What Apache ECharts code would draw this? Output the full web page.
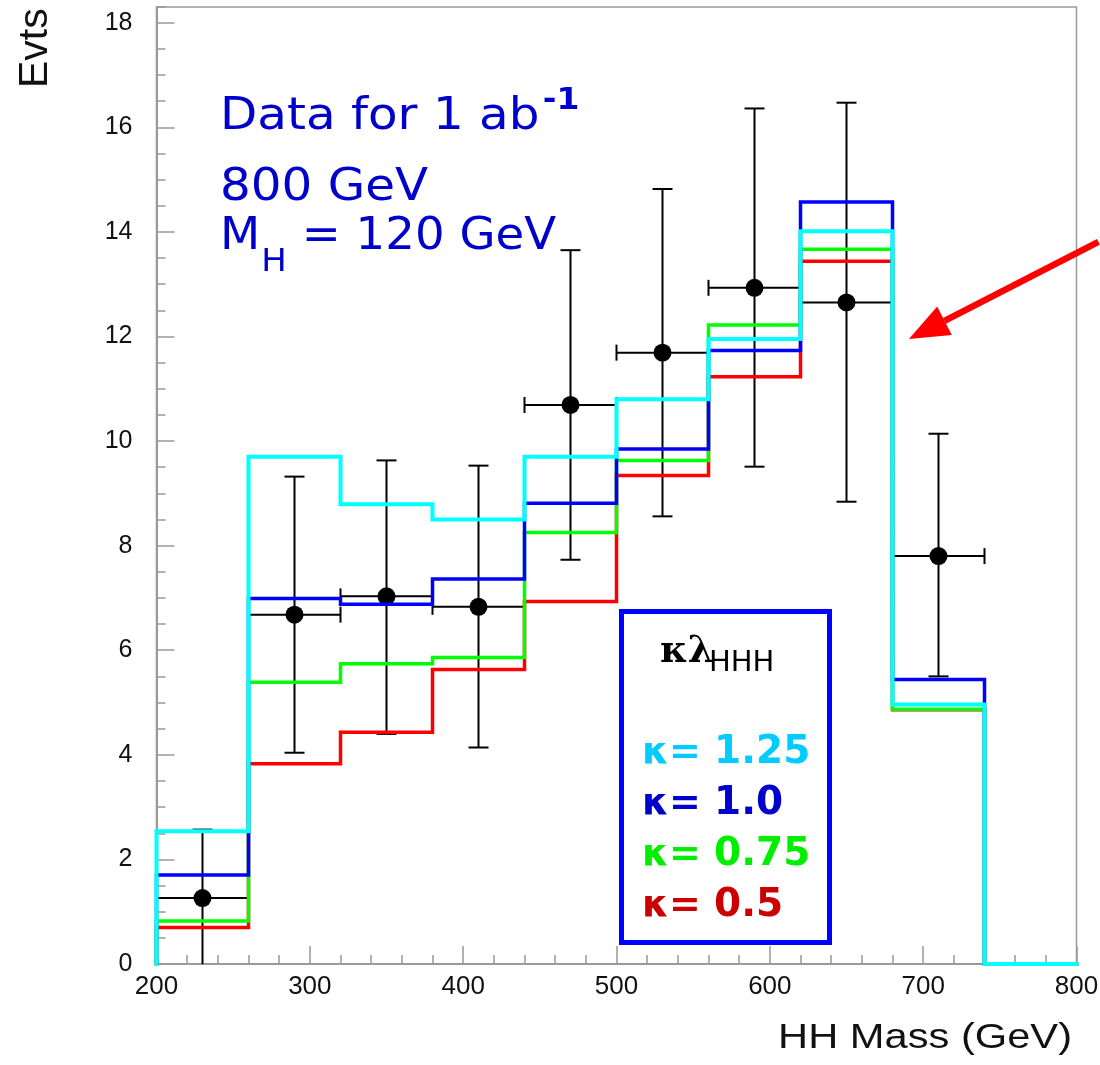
<!DOCTYPE html>
<html>
<head>
<meta charset="utf-8">
<title>HH Mass</title>
<script src="https://cdn.jsdelivr.net/npm/echarts@6/dist/echarts.min.js"></script>
<style>
  html, body { margin: 0; padding: 0; background: #fff; }
  #chart { width: 1100px; height: 1065px; }
</style>
</head>
<body>
<div id="chart"></div>
<script>
// Histogram bin edges (GeV) and expected events per bin for each coupling scale
const binEdges = [200, 260, 320, 380, 440, 500, 560, 620, 680, 740, 800];
const kappa125 = [2.54, 9.70, 8.79, 8.50, 9.70, 10.80, 11.95, 14.01, 4.96, 0];
const kappa100 = [1.70, 6.99, 6.88, 7.36, 8.81, 9.85, 11.73, 14.57, 5.44, 0];
const kappa075 = [0.82, 5.39, 5.74, 5.86, 8.25, 9.63, 12.22, 13.67, 4.87, 0];
const kappa050 = [0.70, 3.83, 4.43, 5.63, 6.93, 9.34, 11.23, 13.44, 4.86, 0];

// Pseudo-data points: bin centre, events, lower and upper error ends
const dataMass = [230, 290, 350, 410, 470, 530, 590, 650, 710];
const dataEvts = [1.26, 6.68, 7.03, 6.83, 10.69, 11.69, 12.93, 12.65, 7.80];
const dataLow  = [-0.05, 4.04, 4.40, 4.14, 7.73, 8.56, 9.51, 8.84, 5.50];
const dataHigh = [2.57, 9.32, 9.63, 9.53, 13.65, 14.82, 16.36, 16.47, 10.14];
const massHalfWidth = 30;

// Arrow pointing at the high-mass edge (mass, events)
const arrowFrom = [814.3, 13.81];
const arrowTo = [690.7, 11.95];

// Axis ranges and steps
const xRange = [200, 800];
const xStep = 100;
const yRange = [0, 18.3];
const yStep = 2;
const yMinorStep = 0.5;

// Legend entries: label and text colour, same order as drawn top to bottom
const legendLabels = ['1.25', '1.0', '0.75', '0.5'];
const legendColors = ['#00ccff', '#0000cc', '#00ee00', '#cc0000'];

function outline(vals) {
  const pts = [[binEdges[0], 0]];
  vals.forEach(function (v, i) {
    pts.push([binEdges[i], v]);
    pts.push([binEdges[i + 1], v]);
  });
  pts.push([binEdges[binEdges.length - 1], 0]);
  return pts;
}

function histSeries(name, vals, color, width) {
  return {
    name: name,
    type: 'line',
    data: outline(vals),
    symbol: 'none',
    lineStyle: { color: color, width: width, join: 'miter', cap: 'square' },
    silent: true
  };
}

function blackLine(x1, y1, x2, y2) {
  return { type: 'line', shape: { x1: x1, y1: y1, x2: x2, y2: y2 }, style: { stroke: '#000', lineWidth: 2 } };
}

function renderErrorBar(params, api) {
  const x = api.value(0), y = api.value(1), lo = api.value(2), hi = api.value(3);
  const c = api.coord([x, y]);
  const top = api.coord([x, hi]);
  const bot = api.coord([x, lo]);
  const left = api.coord([x - massHalfWidth, y]);
  const right = api.coord([x + massHalfWidth, y]);
  const cw = 10, ch = 8;
  return {
    type: 'group',
    children: [
      blackLine(top[0], top[1], bot[0], bot[1]),
      blackLine(top[0] - cw, top[1], top[0] + cw, top[1]),
      blackLine(bot[0] - cw, bot[1], bot[0] + cw, bot[1]),
      blackLine(left[0], left[1], right[0], right[1]),
      blackLine(left[0], left[1] - ch, left[0], left[1] + ch),
      blackLine(right[0], right[1] - ch, right[0], right[1] + ch),
      { type: 'circle', shape: { cx: c[0], cy: c[1], r: 9 }, style: { fill: '#000' } }
    ]
  };
}

function renderArrow(params, api) {
  const from = api.coord([api.value(0), api.value(1)]);
  const to = api.coord([api.value(2), api.value(3)]);
  const dx = from[0] - to[0], dy = from[1] - to[1];
  const len = Math.sqrt(dx * dx + dy * dy);
  const ux = dx / len, uy = dy / len;
  const headLen = 40, headHalf = 16;
  const bx = to[0] + ux * headLen, by = to[1] + uy * headLen;
  return {
    type: 'group',
    children: [
      { type: 'line', shape: { x1: from[0], y1: from[1], x2: bx, y2: by }, style: { stroke: '#ff0000', lineWidth: 6.5 } },
      { type: 'polygon', shape: { points: [[to[0], to[1]], [bx - uy * headHalf, by + ux * headHalf], [bx + uy * headHalf, by - ux * headHalf]] }, style: { fill: '#ff0000' } }
    ]
  };
}

const axisGrey = '#999';
const blueText = '#0000cc';

const legendChildren = [
  { type: 'rect', shape: { x: 621.5, y: 611.5, width: 208, height: 331 }, style: { fill: '#fff', stroke: '#0000ff', lineWidth: 5 } },
  { type: 'text', x: 660, y: 652.5, style: { text: 'κλ', font: 'bold 37px "DejaVu Serif"', fill: '#000', verticalAlign: 'middle' } },
  { type: 'text', x: 709, y: 663, style: { text: 'HHH', font: '29px "DejaVu Sans"', fill: '#000', verticalAlign: 'middle' } }
];
legendLabels.forEach(function (lab, i) {
  legendChildren.push({
    type: 'text', x: 642, y: 753 + i * 51,
    style: {
      text: '{k|κ= }{v|' + lab + '}', verticalAlign: 'middle', fill: legendColors[i],
      rich: {
        k: { font: 'bold 38px "DejaVu Sans"', fill: legendColors[i] },
        v: { font: 'bold 39px "DejaVu Sans"', fill: legendColors[i] }
      }
    }
  });
});

const option = {
  animation: false,
  backgroundColor: '#fff',
  grid: {
    left: 156.5, right: 23.5, top: 7, bottom: 101,
    show: true, borderColor: axisGrey, borderWidth: 1.5,
    containLabel: false, outerBoundsMode: 'none'
  },
  xAxis: [{
    type: 'value', min: xRange[0], max: xRange[1], interval: xStep,
    axisLine: { show: true, onZero: false, lineStyle: { color: axisGrey, width: 2 } },
    axisTick: { show: true, inside: true, length: 18, lineStyle: { color: axisGrey, width: 1.5 } },
    minorTick: { show: true, splitNumber: 5, length: 9, lineStyle: { color: axisGrey, width: 1.5 } },
    splitLine: { show: false },
    axisLabel: { color: '#111', fontSize: 26, fontFamily: '"Liberation Sans", Arial, sans-serif', margin: 10 }
  }],
  yAxis: [{
    type: 'value', min: yRange[0], max: yRange[1], interval: yStep,
    axisLine: { show: true, onZero: false, lineStyle: { color: axisGrey, width: 2 } },
    axisTick: { show: true, inside: true, length: 18, lineStyle: { color: axisGrey, width: 1.5 } },
    splitLine: { show: false },
    axisLabel: { color: '#111', fontSize: 25, fontFamily: '"Liberation Sans", Arial, sans-serif', margin: 24, showMaxLabel: false }
  }, {
    type: 'value', min: yRange[0], max: yRange[1], interval: yMinorStep, position: 'left',
    axisLine: { show: false },
    axisTick: { show: true, inside: true, length: 9, lineStyle: { color: axisGrey, width: 1.5 } },
    splitLine: { show: false },
    axisLabel: { show: false }
  }],
  series: [
    {
      name: 'data', type: 'custom', renderItem: renderErrorBar, clip: true, silent: true,
      data: dataMass.map(function (m, i) { return [m, dataEvts[i], dataLow[i], dataHigh[i]]; })
    },
    histSeries('κ= 0.5', kappa050, '#ff0000', 3.5),
    histSeries('κ= 0.75', kappa075, '#00ff00', 3.5),
    histSeries('κ= 1.0', kappa100, '#0000ff', 3.5),
    histSeries('κ= 1.25', kappa125, '#00ffff', 4),
    {
      name: 'arrow', type: 'custom', renderItem: renderArrow, clip: false, silent: true, z: 5,
      data: [[arrowFrom[0], arrowFrom[1], arrowTo[0], arrowTo[1]]]
    }
  ],
  graphic: [
    {
      type: 'text', x: 220, y: 86, scaleX: 1.1, z: 10,
      style: {
        text: '{m|Data for 1 ab}{s|-1}', verticalAlign: 'top', fill: blueText,
        rich: {
          m: { font: '44px "DejaVu Sans"', lineHeight: 56, verticalAlign: 'top', padding: [10, 0, 0, 0], fill: blueText },
          s: { font: 'bold 30px "DejaVu Sans"', lineHeight: 30, verticalAlign: 'top', padding: [0, 0, 0, 3], fill: blueText }
        }
      }
    },
    {
      type: 'text', x: 220, y: 167, scaleX: 1.1, z: 10,
      style: {
        text: '{m|800 GeV}', verticalAlign: 'top', fill: blueText,
        rich: { m: { font: '44px "DejaVu Sans"', lineHeight: 56, verticalAlign: 'top', fill: blueText } }
      }
    },
    {
      type: 'text', x: 220, y: 215.6, scaleX: 1.06, z: 10,
      style: {
        text: '{m|M}{h|H}{m| = 120 GeV}', verticalAlign: 'top', fill: blueText,
        rich: {
          m: { font: '44px "DejaVu Sans"', lineHeight: 56, verticalAlign: 'top', fill: blueText },
          h: { font: '32px "DejaVu Sans"', lineHeight: 32, verticalAlign: 'top', padding: [30.6, 0, 0, 1], fill: blueText }
        }
      }
    },
    {
      type: 'text', x: 36, y: 88, rotation: Math.PI / 2, z: 10,
      style: { text: 'Evts', font: '41px "Liberation Sans", Arial, sans-serif', fill: '#111', align: 'left', verticalAlign: 'middle' }
    },
    {
      type: 'text', x: 1072, y: 1038, scaleX: 1.19, z: 10,
      style: { text: 'HH Mass (GeV)', font: '35px "Liberation Sans", Arial, sans-serif', fill: '#111', align: 'right', verticalAlign: 'middle' }
    },
    { type: 'group', z: 10, children: legendChildren }
  ]
};

const chart = echarts.init(document.getElementById('chart'), null, { renderer: 'canvas' });
chart.setOption(option);
</script>
</body>
</html>
